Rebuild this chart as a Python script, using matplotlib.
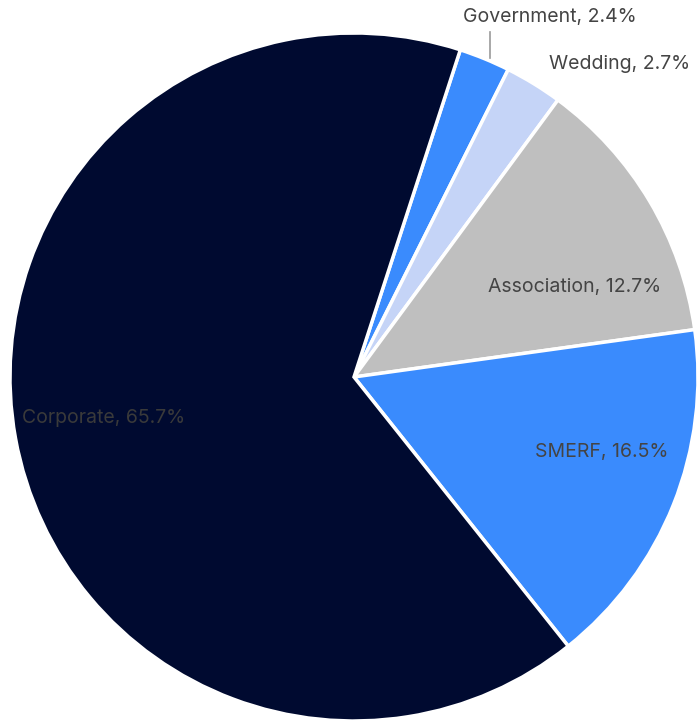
import numpy as np
import matplotlib.pyplot as plt

segments = ['Government', 'Wedding', 'Association', 'SMERF', 'Corporate']
shares = [2.4, 2.7, 12.7, 16.5, 65.7]
colors = ['#3a8bfd', '#c5d4f7', '#bfbfbf', '#3a8bfd', '#000a30']

# label placement in pie units (radius = 1)
label_pos = {
    'Government': (0.569, 1.047, 'center'),
    'Wedding': (0.773, 0.910, 'center'),
    'Association': (0.641, 0.262, 'center'),
    'SMERF': (0.720, -0.219, 'center'),
    'Corporate': (-0.965, -0.120, 'left'),
}

plt.rcParams['font.family'] = ['Inter', 'DejaVu Sans']

fig = plt.figure(figsize=(7, 7.2), dpi=100)
ax = fig.add_axes([10 / 700, -1 / 720, 688 / 700, 688 / 720])

wedges, _ = ax.pie(shares, colors=colors, startangle=72, counterclock=False,
                   radius=1, center=(0, 0),
                   wedgeprops=dict(edgecolor='white', linewidth=2.5))
for w in wedges:
    w.set_clip_on(False)

for name, val in zip(segments, shares):
    x, y, ha = label_pos[name]
    col = '#3a3a3a' if name == 'Corporate' else '#444444'
    ax.text(x, y, f'{name}, {val}%', ha=ha, va='center', fontsize=14,
            color=col, clip_on=False)

# leader line for the Government slice
gw = wedges[0]
mid = np.deg2rad((gw.theta1 + gw.theta2) / 2 - 1)
ax.plot([np.cos(mid)] * 2, [np.sin(mid) + 0.01, 1.003], color='#999999',
        linewidth=1.2, clip_on=False)

ax.set_xlim(-1, 1)
ax.set_ylim(-1, 1)
ax.set_aspect('equal')
ax.axis('off')

fig.savefig('out.png', dpi=100)
